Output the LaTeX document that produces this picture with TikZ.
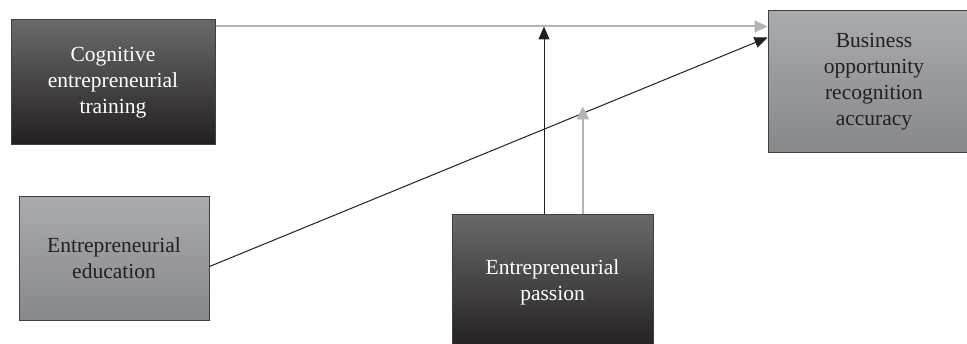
\documentclass[tikz,border=0pt]{standalone}
\usepackage{fontspec}
\setmainfont{Liberation Serif}
\usepackage{tikz}
\usetikzlibrary{arrows.meta}
\definecolor{boxdark}{HTML}{231F20}
\definecolor{boxdarktop}{HTML}{69696B}
\definecolor{boxgraytop}{HTML}{AAABAE}
\definecolor{boxgraybot}{HTML}{87888B}
\definecolor{linegray}{HTML}{B3B4B6}

\begin{document}
\begin{tikzpicture}[x=1pt, y=1pt,
        darkbox/.style={draw=black!75, line width=1pt, top color=boxdarktop, middle color=boxdark, bottom color=boxdark, text=white, align=center, inner sep=0pt, font=\fontsize{21.5}{26}\selectfont},
        graybox/.style={draw=black!75, line width=1pt, top color=boxgraytop, bottom color=boxgraybot, text=boxdark, align=center, inner sep=0pt, font=\fontsize{21.5}{26}\selectfont},
        blackarrow/.style={draw=boxdark, line width=1pt, -{Triangle[length=13pt, width=11pt]}},
        grayarrow/.style={draw=linegray, line width=2pt, -{Triangle[length=13pt, width=12pt]}}]
        \useasboundingbox (0,0) rectangle (967,343);

        \node[darkbox, minimum width=204pt, minimum height=125pt] (cog) at (113,260.5) {Cognitive\\entrepreneurial\\training};
        \node[graybox, minimum width=190pt, minimum height=123pt] (edu) at (114,84.5) {Entrepreneurial\\education};
        \node[darkbox, minimum width=201pt, minimum height=135pt] (pas) at (552.5,60.5) {Entrepreneurial\\passion};
        \node[graybox, minimum width=212pt, minimum height=142pt] (bus) at (874,261) {Business\\opportunity\\recognition\\accuracy};

        \coordinate (cogout) at ([yshift=-7pt]cog.north east);
        \draw[grayarrow] (cogout) -- (cogout -| bus.west);
        \draw[blackarrow] ([yshift=-8pt]edu.east) -- coordinate[pos=0.669] (cross) ([yshift=-27pt]bus.north west);
        \draw[blackarrow] ([xshift=-8.5pt]pas.north) -- ([xshift=-8.5pt]pas.north |- cogout);
        \draw[grayarrow] (cross |- pas.north) -- ([yshift=7pt]cross);
\end{tikzpicture}
\end{document}
